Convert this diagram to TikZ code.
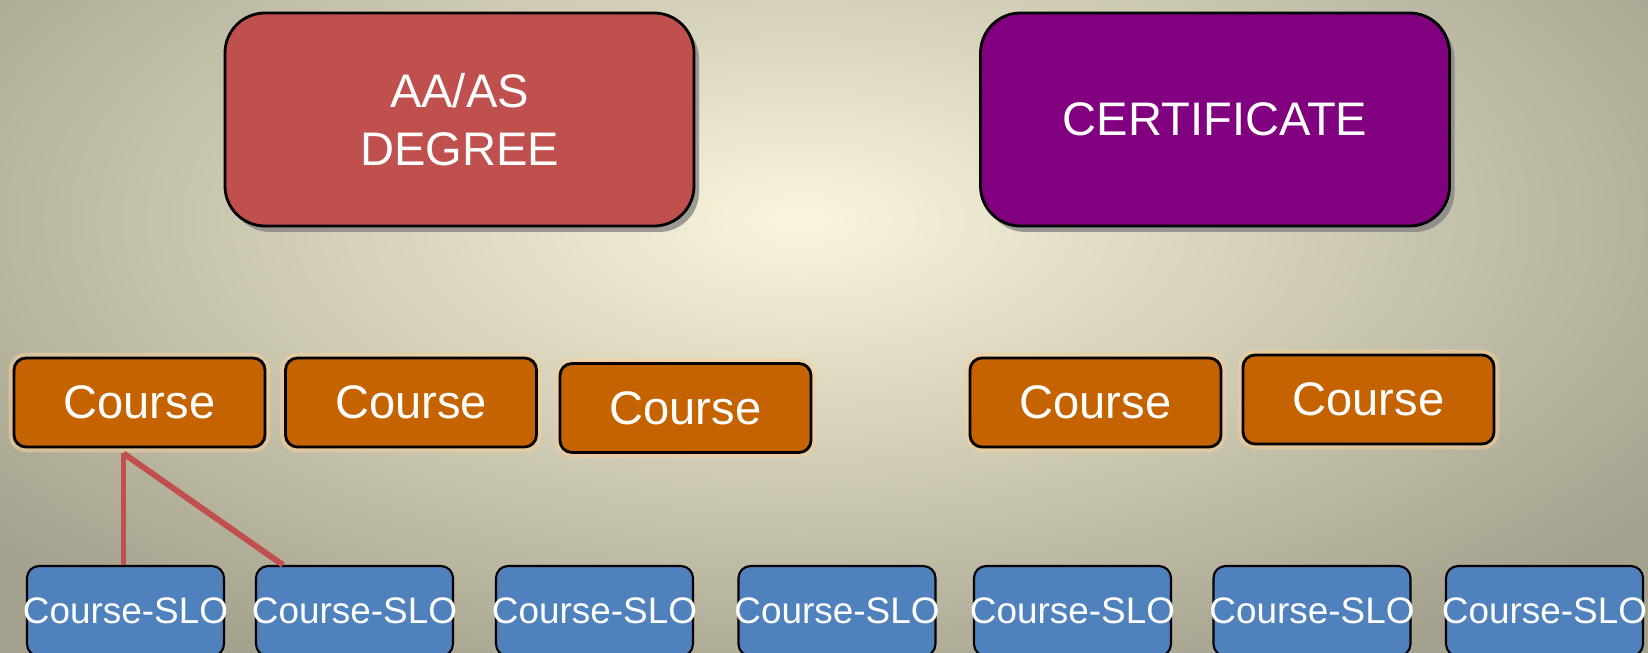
\documentclass[tikz,border=0pt]{standalone}
\usepackage{fontspec}
\setmainfont{Liberation Sans}
\usepackage{tikz}
\usetikzlibrary{calc,shadows,positioning}
\definecolor{degreered}{HTML}{C0504D}
\definecolor{certpurple}{HTML}{800080}
\definecolor{courseorange}{HTML}{C46300}
\definecolor{sloblue}{HTML}{4F81BD}
\definecolor{glow}{HTML}{F6CF98}
\definecolor{bgin}{HTML}{FAF5DB}
\definecolor{bgout}{HTML}{A4A18E}

\begin{document}
\begin{tikzpicture}
\tikzstyle{program}=[rectangle,rounded corners=0.4cm,draw=black,line width=0.8pt,minimum width=4.69cm,minimum height=2.13cm,text=white,font=\fontsize{13.4}{16.4}\selectfont,align=center,drop shadow={shadow xshift=0.05cm,shadow yshift=-0.06cm,opacity=0.75}]
\tikzstyle{course}=[rectangle,rounded corners=0.12cm,draw=black,line width=0.8pt,fill=courseorange,minimum width=2.51cm,minimum height=0.89cm,text=white,font=\fontsize{13.4}{16}\selectfont,preaction={draw=glow,line width=3pt,opacity=0.55}]
\tikzstyle{slo}=[rectangle,rounded corners=0.12cm,draw=black,line width=0.6pt,fill=sloblue,minimum width=1.97cm,minimum height=0.9cm,inner sep=0pt,text=white,font=\fontsize{10.5}{12}\selectfont,anchor=north]
\tikzstyle{link}=[draw=degreered,line width=1.7pt]
% background
\useasboundingbox (0,0) rectangle (16.48,-6.53);
\begin{scope}
\clip (0,0) rectangle (16.48,-6.53);
\shade[inner color=bgin,outer color=bgout] (-2.5,2.8) rectangle (18.5,-7.2);
\end{scope}
% programs
\node[program,fill=degreered] (degree) at (4.595,-1.195) {AA/AS\\DEGREE};
\node[program,fill=certpurple] (cert) at (12.15,-1.195) {CERTIFICATE};
% courses
\node[course] (c1) at (1.395,-4.025) {Course};
\node[course] (c2) at (4.11,-4.025) {Course};
\node[course] (c3) at (6.855,-4.08) {Course};
\node[course] (c4) at (10.955,-4.025) {Course};
\node[course] (c5) at (13.685,-3.995) {Course};
% course SLOs
\foreach \x [count=\i] in {1.255,3.545,5.945,8.37,10.725,13.12,15.445}
  \node[slo] (s\i) at (\x,-5.65) {\makebox[1.97cm]{Course-SLO}};
\coordinate (top) at ($(c1.south)+(-0.16,-0.05)$);
\draw[link] (top) -- (top |- s1.north);
\draw[link] (top) -- ($(s2.north west)+(0.28,0)$);
\end{tikzpicture}
\end{document}
